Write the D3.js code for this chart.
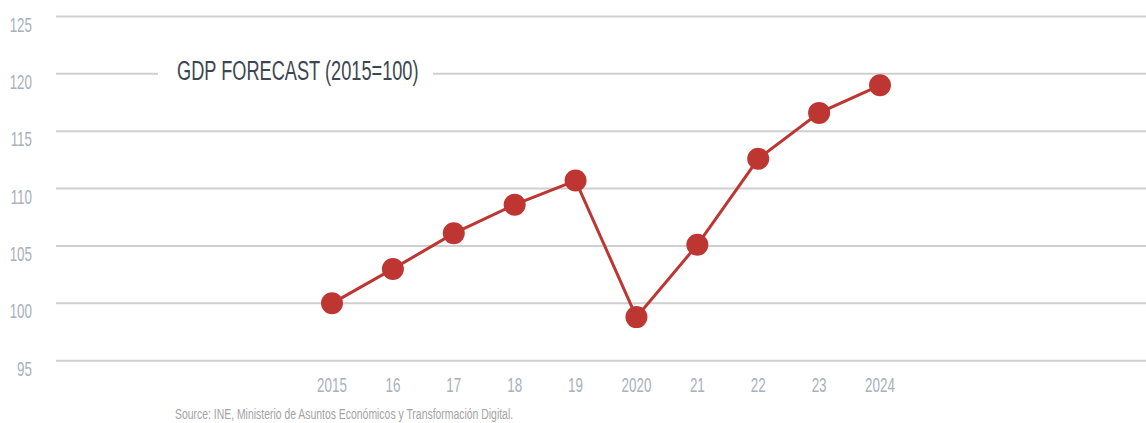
<!DOCTYPE html>
<html>
<head>
<meta charset="utf-8">
<script src="https://cdn.jsdelivr.net/npm/d3@7"></script>
<style>
  body { margin: 0; background: #fff; }
  svg { display: block; }
</style>
</head>
<body>
<div id="chart"></div>
<script>
const years = ["2015", "16", "17", "18", "19", "2020", "21", "22", "23", "2024"];
const gdp = [100, 103.0, 106.1, 108.6, 110.7, 98.8, 105.1, 112.6, 116.6, 119.0];
const yTicks = [95, 100, 105, 110, 115, 120, 125];
const title = "GDP FORECAST (2015=100)";
const source = "Source: INE, Ministerio de Asuntos Económicos y Transformación Digital.";

const width = 1146, height = 423;
const font = "'Liberation Sans', Arial, sans-serif";
const squeeze = 0.67;

const svg = d3.select("#chart")
  .append("svg")
  .attr("width", width)
  .attr("height", height);

const x = d3.scalePoint().domain(years).range([332, 880]);
const y = d3.scaleLinear().domain([95, 125]).range([360.7, 16.5]);

// gridlines
svg.append("g")
  .selectAll("line")
  .data(yTicks)
  .enter()
  .append("line")
  .attr("x1", 56)
  .attr("x2", width)
  .attr("y1", d => y(d))
  .attr("y2", d => y(d))
  .style("stroke", "#cfcfcf")
  .style("stroke-width", 2);

// y labels
svg.append("g")
  .selectAll("text")
  .data(yTicks)
  .enter()
  .append("text")
  .attr("transform", d => "translate(32," + (y(d) + 15) + ") scale(" + squeeze + ",1)")
  .attr("text-anchor", "end")
  .style("font-family", font)
  .style("font-size", "20px")
  .style("fill", "#a8b0ba")
  .text(d => d);

// x labels
svg.append("g")
  .selectAll("text")
  .data(years)
  .enter()
  .append("text")
  .attr("transform", d => "translate(" + x(d) + ",392) scale(" + squeeze + ",1)")
  .attr("text-anchor", "middle")
  .style("font-family", font)
  .style("font-size", "20px")
  .style("fill", "#a8b0ba")
  .text(d => d);

// title with a white gap in the gridline
svg.append("rect")
  .attr("x", 158)
  .attr("y", y(120) - 6)
  .attr("width", 275)
  .attr("height", 12)
  .style("fill", "#fff");

svg.append("text")
  .attr("transform", "translate(177,80) scale(0.65,1)")
  .style("font-family", font)
  .style("font-size", "28px")
  .style("fill", "#3c4651")
  .text(title);

// line + points
const line = d3.line()
  .x((d, i) => x(years[i]))
  .y(d => y(d));

svg.append("path")
  .datum(gdp)
  .attr("d", line)
  .style("fill", "none")
  .style("stroke", "#be3632")
  .style("stroke-width", 3);

svg.append("g")
  .selectAll("circle")
  .data(gdp)
  .enter()
  .append("circle")
  .attr("cx", (d, i) => x(years[i]))
  .attr("cy", d => y(d))
  .attr("r", 11)
  .style("fill", "#be3632");

// source
svg.append("text")
  .attr("transform", "translate(175,419) scale(0.695,1)")
  .style("font-family", font)
  .style("font-size", "15px")
  .style("fill", "#a3a3a3")
  .text(source);
</script>
</body>
</html>
